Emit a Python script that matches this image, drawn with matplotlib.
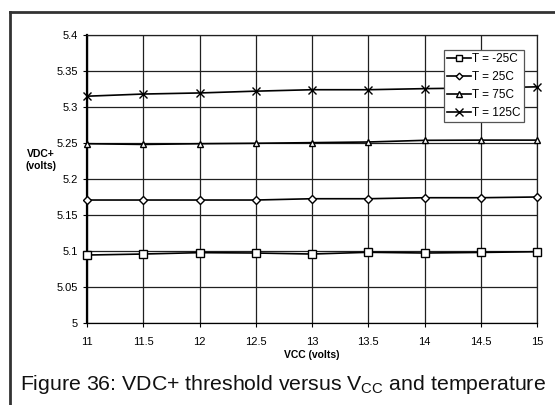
import matplotlib
matplotlib.use("Agg")
import matplotlib.pyplot as plt
from matplotlib.lines import Line2D

plt.rcParams['font.family'] = ['Liberation Sans', 'DejaVu Sans']
plt.rcParams['mathtext.fontset'] = 'custom'
plt.rcParams['mathtext.rm'] = 'Liberation Sans'

vcc = [11, 11.5, 12, 12.5, 13, 13.5, 14, 14.5, 15]
t_m25 = [5.0944, 5.0958, 5.0977, 5.0972, 5.0958, 5.0982, 5.0972, 5.0980, 5.0990]
t_25 = [5.1708, 5.1708, 5.1708, 5.1708, 5.1726, 5.1726, 5.1740, 5.1740, 5.1750]
t_75 = [5.2490, 5.2480, 5.2490, 5.2496, 5.2505, 5.2514, 5.2537, 5.2540, 5.2540]
t_125 = [5.3150, 5.3180, 5.3195, 5.3220, 5.3240, 5.3240, 5.3255, 5.3265, 5.3280]
labels = ['T = -25C', 'T = 25C', 'T = 75C', 'T = 125C']
xticks = [11, 11.5, 12, 12.5, 13, 13.5, 14, 14.5, 15]
yticks = [5, 5.05, 5.1, 5.15, 5.2, 5.25, 5.3, 5.35, 5.4]

fig = plt.figure(figsize=(5.55, 4.05), dpi=100)
ax = fig.add_axes([87/555, 1-323/405, 450/555, 288/405])

styles = [dict(marker='s', ms=5.5), dict(marker='D', ms=4), dict(marker='^', ms=5), dict(marker='x', ms=6, mew=1.0)]
for ys, lab, st in zip([t_m25, t_25, t_75, t_125], labels, styles):
    ax.plot(vcc, ys, color='black', lw=1.2, mfc='white', mec='black', label=lab, clip_on=False, zorder=3, **st)

ax.set_xlim(11, 15)
ax.set_ylim(5, 5.4)
ax.set_xticks(xticks)
ax.set_xticklabels([f"{v:g}" for v in xticks])
ax.set_yticks(yticks)
ax.set_yticklabels([f"{v:g}" for v in yticks])
ax.grid(True, color='#202020', lw=0.9)
ax.set_axisbelow(True)
for s in ['top', 'right']:
    ax.spines[s].set_color('#202020')
    ax.spines[s].set_linewidth(0.9)
ax.spines['left'].set_linewidth(1.6)
ax.spines['bottom'].set_linewidth(0.9)
ax.tick_params(axis='both', labelsize=8, length=3, width=0.8, direction='out', colors='black')
ax.tick_params(axis='x', pad=7)

ax.set_xlabel('VCC (volts)', fontsize=7.5, fontweight='bold', labelpad=2)
fig.text(41/555, 1-160/405, 'VDC+\n(volts)', fontsize=7.5, fontweight='bold', ha='center', va='center', linespacing=1.3)

leg = ax.legend(loc='upper left', bbox_to_anchor=((444-87)/450, 1-(50-35)/288), fontsize=8.5,
                frameon=True, fancybox=False, edgecolor='#555555', framealpha=1, borderpad=0.25,
                handlelength=2.0, handletextpad=0.15, labelspacing=0.5, borderaxespad=0,
                markerscale=0.85)
leg.get_frame().set_linewidth(0.9)

# outer frame
fig.add_artist(Line2D([10/555, 1.0], [1-12/405, 1-12/405], color='#333333', lw=2, transform=fig.transFigure))
fig.add_artist(Line2D([10/555, 10/555], [1-12/405, 0], color='#333333', lw=2, transform=fig.transFigure))

fig.text(20/555, 1-385/405, r'Figure 36: VDC+ threshold versus V$_{\mathrm{CC}}$ and temperature', fontsize=15.3, ha='left', va='center', color='#111111')

fig.savefig('out.png', dpi=100)
